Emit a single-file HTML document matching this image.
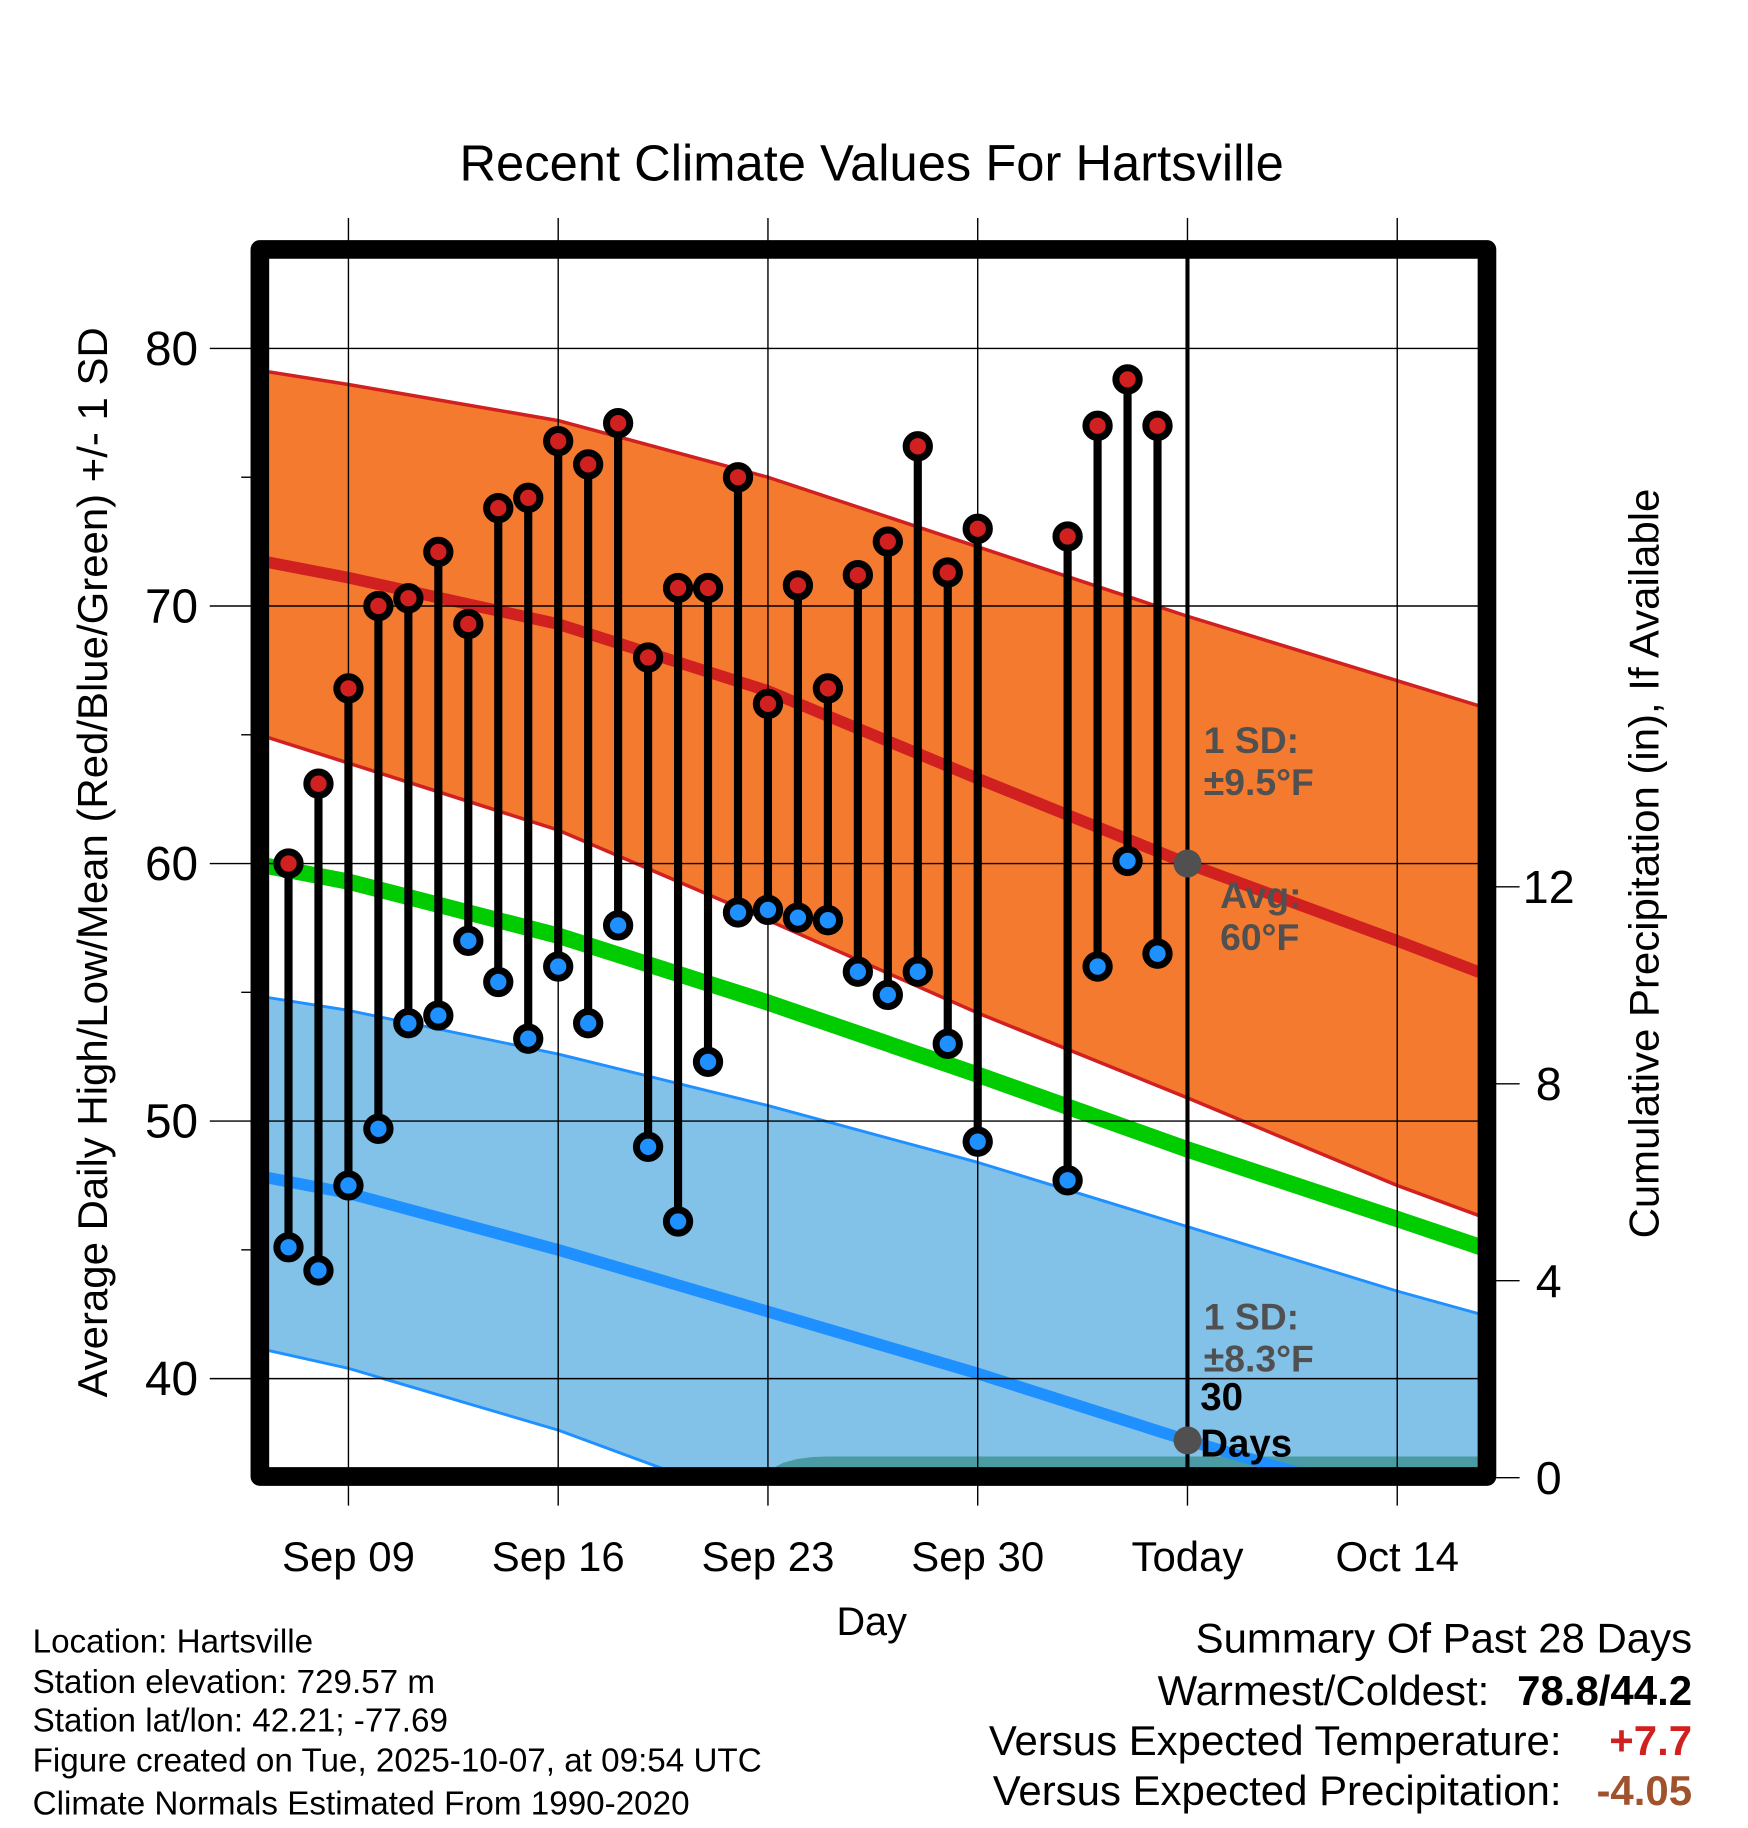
<!DOCTYPE html>
<html><head><meta charset="utf-8"><title>Recent Climate Values For Hartsville</title>
<style>
html,body{margin:0;padding:0;background:#fff;}
svg{display:block;font-family:"Liberation Sans",Arial,sans-serif;}
</style></head>
<body>
<svg id="chart" width="1748" height="1828" viewBox="0 0 1500 1568.6" xmlns="http://www.w3.org/2000/svg">
<defs><clipPath id="plotclip"><rect x="231" y="221" width="1038" height="1040"/></clipPath></defs>
<text x="748" y="155" font-size="43.5" text-anchor="middle">Recent Climate Values For Hartsville</text>
<g id="bands" clip-path="url(#plotclip)"></g>
<g id="grid"></g>
<g id="marks"></g>
<g id="frame"></g>
<g id="labels"></g>
<text transform="translate(92,740) rotate(-90)" font-size="36" text-anchor="middle">Average Daily High/Low/Mean (Red/Blue/Green) +/- 1 SD</text>
<text transform="translate(1423,741) rotate(-90)" font-size="36" text-anchor="middle">Cumulative Precipitation (in), If Available</text>
<text x="748" y="1403" font-size="34" text-anchor="middle">Day</text>
<g font-size="32" font-weight="bold" fill="#505050">
<text x="1033" y="646">1 SD:</text><text x="1033" y="682">±9.5°F</text></g>
<g font-size="32" font-weight="bold" fill="#505050">
<text x="1047" y="779">Avg:</text><text x="1047" y="815">60°F</text></g>
<g font-size="32" font-weight="bold" fill="#505050">
<text x="1033" y="1141">1 SD:</text><text x="1033" y="1177">±8.3°F</text></g>
<g font-size="33" font-weight="bold" fill="#000">
<text x="1030" y="1210">30</text><text x="1030" y="1250">Days</text></g>
<g font-size="28.5">
<text x="28" y="1418">Location: Hartsville</text>
<text x="28" y="1453">Station elevation: 729.57 m</text>
<text x="28" y="1486">Station lat/lon: 42.21; -77.69</text>
<text x="28" y="1520">Figure created on Tue, 2025-10-07, at 09:54 UTC</text>
<text x="28" y="1557">Climate Normals Estimated From 1990-2020</text>
</g>
<g font-size="36">
<text x="1452" y="1418" text-anchor="end">Summary Of Past 28 Days</text>
<text x="1278" y="1463" text-anchor="end">Warmest/Coldest:</text>
<text x="1452" y="1463" text-anchor="end" font-weight="bold">78.8/44.2</text>
<text x="1340" y="1506" text-anchor="end">Versus Expected Temperature:</text>
<text x="1452" y="1506" text-anchor="end" font-weight="bold" fill="#d02020">+7.7</text>
<text x="1340" y="1549" text-anchor="end">Versus Expected Precipitation:</text>
<text x="1452" y="1549" text-anchor="end" font-weight="bold" fill="#a0522d">-4.05</text>
</g>
</svg>
<script>
const days = [7,8,9,10,11,12,13,14,15,16,17,18,19,20,21,22,23,24,25,26,27,28,29,30,33,34,35,36];
const highs = [60.0,63.1,66.8,70.0,70.3,72.1,69.3,73.8,74.2,76.4,75.5,77.1,68.0,70.7,70.7,75.0,66.2,70.8,66.8,71.2,72.5,76.2,71.3,73.0,72.7,77.0,78.8,77.0];
const lows = [45.1,44.2,47.5,49.7,53.8,54.1,57.0,55.4,53.2,56.0,53.8,57.6,49.0,46.1,52.3,58.1,58.2,57.9,57.8,55.8,54.9,55.8,53.0,49.2,47.7,56.0,60.1,56.5];
const normDays = [6.3,9,16,23,30,37,44,46.8];
const normHigh = [71.7,71.1,69.3,66.7,63.3,60.0,57.0,55.75];
const normHighUp = [79.1,78.6,77.2,75.0,72.3,69.6,67.1,66.1];
const normHighDn = [64.9,63.9,61.3,57.8,54.2,50.9,47.5,46.3];
const normMean = [59.9,59.3,57.2,54.6,51.8,48.9,46.2,45.1];
const normLow = [47.8,47.2,45.0,42.6,40.2,37.6,35.2,34.2];
const normLowUp = [54.8,54.3,52.6,50.6,48.4,45.9,43.4,42.5];
const normLowDn = [41.1,40.4,38.0,35.0,32.5,30.0,27.5,26.5];
const precipDays = [23,23.5,24,24.5,25,37,47];
const precipVals = [0.14,0.30,0.38,0.42,0.43,0.43,0.43];
const yTicks = [40,50,60,70,80];
const yMinor = [45,55,65,75];
const y2Ticks = [0,4,8,12];
const xTickDays = [9,16,23,30,37,44];
const xTickLabels = ["Sep 09","Sep 16","Sep 23","Sep 30","Today","Oct 14"];
const todayDay = 37;

const NS="http://www.w3.org/2000/svg";
const X = d => 299 + (d-9)*180/7;
const Y = v => 299 + (80-v)*22.1;
const Y2 = p => 1268 - p*42.25;
function mk(tag, parent, attrs){const e=document.createElementNS(NS,tag);for(const k in attrs)e.setAttribute(k,attrs[k]);parent.appendChild(e);return e;}
const bands=document.getElementById('bands'), grid=document.getElementById('grid'), marks=document.getElementById('marks'), frame=document.getElementById('frame'), labels=document.getElementById('labels');
function pts(arr){return normDays.map((d,i)=>X(d).toFixed(1)+','+Y(arr[i]).toFixed(1));}
function band(up,dn,fill,name){
  const p=mk('polygon',bands,{points:pts(up).concat(pts(dn).reverse()).join(' '),fill:fill});
  
  
}
function line(arr,color,w,name){
  const p=mk('polyline',bands,{points:pts(arr).join(' '),fill:'none',stroke:color,'stroke-width':w,'stroke-linejoin':'round'});
  
  
}
band(normLowUp,normLowDn,'#82c1e8','low-sd-band');
band(normHighUp,normHighDn,'#f47a30','high-sd-band');
line(normHighUp,'#d02020',3,'high-upper-edge');
line(normHighDn,'#d02020',3,'high-lower-edge');
line(normLowUp,'#1e90ff',2.5,'low-upper-edge');
line(normLowDn,'#1e90ff',2.5,'low-lower-edge');
const pp=precipDays.map((d,i)=>X(d).toFixed(1)+','+Y2(precipVals[i]).toFixed(1));
const prec=mk('polygon',bands,{points:[X(precipDays[0])+',1270'].concat(pp).concat([X(precipDays[precipDays.length-1])+',1270']).join(' '),fill:'#4a9ba3'});


line(normHigh,'#d02020',10,'normal-high-line');
line(normMean,'#00cc00',14,'normal-mean-line');
line(normLow,'#1e90ff',10,'normal-low-line');

xTickDays.forEach((d,i)=>{
  const g=mk('line',grid,{x1:X(d),x2:X(d),y1:187,y2:1292,stroke:'#000','stroke-width':1.2});
  
  
  const t=mk('text',labels,{x:X(d),y:1348,'font-size':36,'text-anchor':'middle'});
  t.textContent=xTickLabels[i];
  
  
});
yTicks.forEach(v=>{
  const g=mk('line',grid,{x1:180,x2:1269,y1:Y(v),y2:Y(v),stroke:'#000','stroke-width':1.2});
  
  
  const t=mk('text',labels,{x:170,y:Y(v)+14,'font-size':41,'text-anchor':'end'});
  t.textContent=v;
  
  
});
yMinor.forEach(v=>{
  const g=mk('line',grid,{x1:207,x2:220,y1:Y(v),y2:Y(v),stroke:'#000','stroke-width':1.2});
  
  
});
y2Ticks.forEach(p=>{
  const g=mk('line',grid,{x1:1280,x2:1304,y1:Y2(p),y2:Y2(p),stroke:'#000','stroke-width':1.2});
  
  
  const t=mk('text',labels,{x:1329,y:Y2(p)+14,'font-size':40,'text-anchor':'middle'});
  t.textContent=p;
  
  
});
const tl=mk('line',marks,{x1:X(todayDay),x2:X(todayDay),y1:214,y2:1262,stroke:'#000','stroke-width':3.5});


days.forEach((d,i)=>{
  const s=mk('line',marks,{x1:X(d),x2:X(d),y1:Y(highs[i]),y2:Y(lows[i]),stroke:'#000','stroke-width':7});
  
  
});
days.forEach((d,i)=>{
  const h=mk('circle',marks,{cx:X(d),cy:Y(highs[i]),r:10,fill:'#d02020',stroke:'#000','stroke-width':6});
  
  
  const l=mk('circle',marks,{cx:X(d),cy:Y(lows[i]),r:10,fill:'#1e90ff',stroke:'#000','stroke-width':6});
  
  
});
const ti=normDays.indexOf(todayDay);
const g1=mk('circle',marks,{cx:X(todayDay),cy:Y(normHigh[ti]),r:12,fill:'#505050'});


const g2=mk('circle',marks,{cx:X(todayDay),cy:Y(normLow[ti]),r:12,fill:'#505050'});


const fr=mk('rect',frame,{x:223,y:214,width:1053,height:1053,fill:'none',stroke:'#000','stroke-width':16,'stroke-linejoin':'round'});


</script>
</body></html>
